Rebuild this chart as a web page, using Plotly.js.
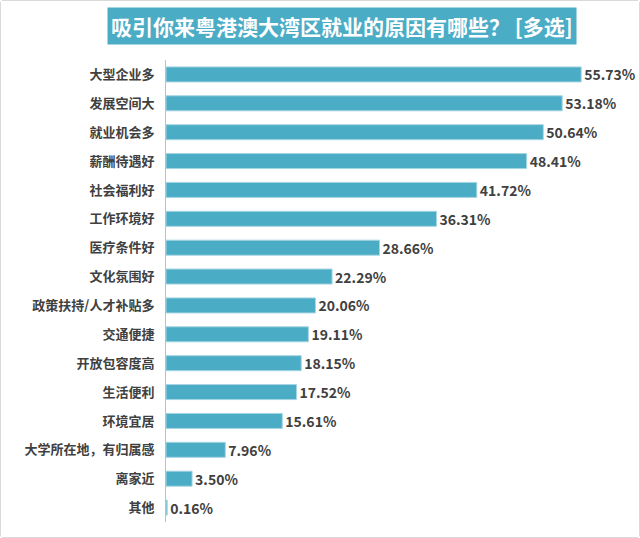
<!DOCTYPE html>
<html>
<head>
<meta charset="utf-8">
<script src="https://cdn.plot.ly/plotly-3.0.1.min.js"></script>
<style>
  html, body { margin: 0; padding: 0; background: #fff; }
  #chart { width: 638px; height: 536px; border: 1px solid #d9d9d9; border-radius: 3px; }
</style>
</head>
<body>
<div id="chart"></div>
<script>
let reasons = [
  "大型企业多", "发展空间大", "就业机会多", "薪酬待遇好", "社会福利好",
  "工作环境好", "医疗条件好", "文化氛围好", "政策扶持/人才补贴多", "交通便捷",
  "开放包容度高", "生活便利", "环境宜居", "大学所在地，有归属感", "离家近", "其他"
];
let shares = [55.73, 53.18, 50.64, 48.41, 41.72, 36.31, 28.66, 22.29, 20.06, 19.11,
  18.15, 17.52, 15.61, 7.96, 3.50, 0.16];

let chartTitle = "吸引你来粤港澳大湾区就业的原因有哪些？ [多选]";

let font = "'Noto Sans CJK SC', 'Noto Sans', sans-serif";

var trace = {
  type: "bar",
  orientation: "h",
  x: shares,
  y: reasons,
  marker: {
    color: "#4bacc6",
    line: { color: "#a5d5e2", width: 1 },
  },
  texttemplate: "%{x:.2f}%",
  textposition: "outside",
  constraintext: "none",
  cliponaxis: false,
  textfont: { family: font, size: 14, color: "#404040", weight: "bold" },
  hoverinfo: "skip",
};

var layout = {
  width: 638,
  height: 536,
  margin: { l: 165, r: 26, t: 59, b: 15 },
  paper_bgcolor: "#fff",
  plot_bgcolor: "#fff",
  bargap: 0.48,
  showlegend: false,
  xaxis: {
    range: [0, 60],
    visible: false,
    fixedrange: true,
  },
  yaxis: {
    autorange: "reversed",
    showline: true,
    linecolor: "#bfbfbf",
    linewidth: 1,
    ticks: "",
    ticklabelstandoff: 8,
    tickfont: { family: font, size: 13, color: "#404040", weight: "bold" },
    showgrid: false,
    fixedrange: true,
  },
  annotations: [
    {
      text: chartTitle,
      xref: "paper",
      yref: "paper",
      x: (341 - 165) / 447,
      y: 1,
      yshift: 34,
      xanchor: "center",
      yanchor: "middle",
      showarrow: false,
      bgcolor: "#4bacc6",
      borderpad: 3,
      font: { family: font, size: 21, color: "#ffffff", weight: "bold" },
    },
  ],
};

Plotly.newPlot("chart", [trace], layout, { displayModeBar: false, staticPlot: true });
</script>
</body>
</html>
